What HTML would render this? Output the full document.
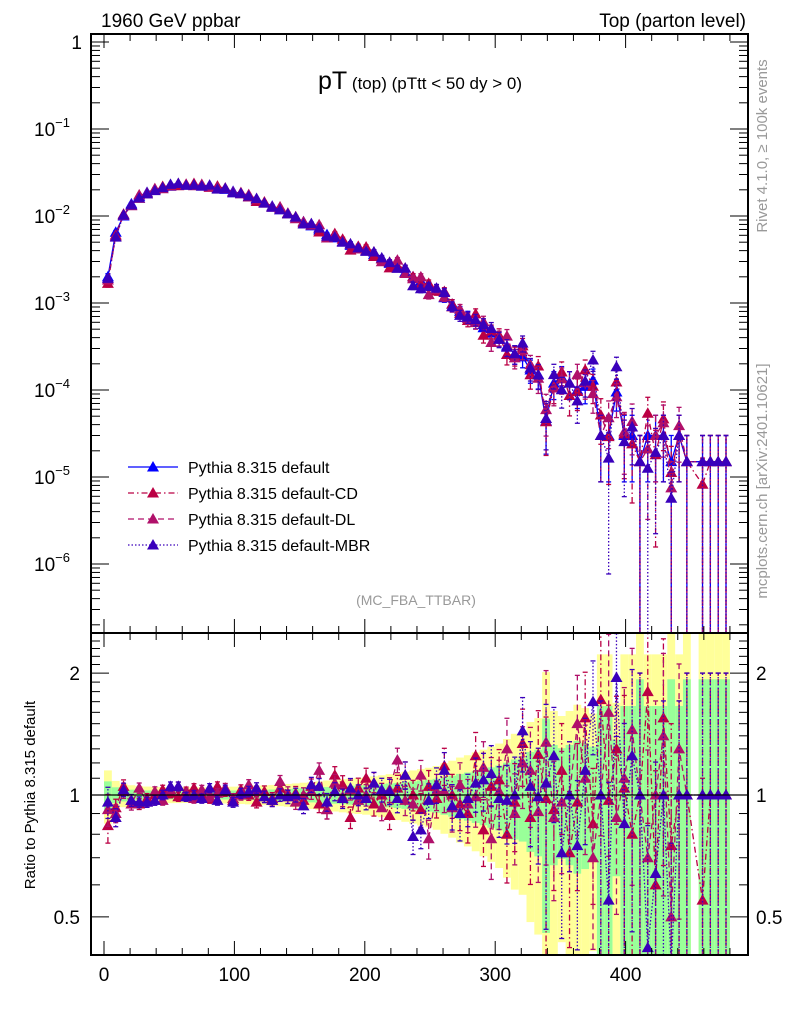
<!DOCTYPE html>
<html><head><meta charset="utf-8"><style>
html,body{margin:0;padding:0;background:#fff;overflow:hidden;width:786px;height:1024px;}
svg{display:block;font-family:"Liberation Sans",Arial,sans-serif;}
</style></head><body>
<svg id="chart" width="786" height="1024" viewBox="0 0 786 1024" xmlns="http://www.w3.org/2000/svg">
<defs>
<clipPath id="clipMain"><rect x="91" y="34" width="657" height="599"/></clipPath>
<clipPath id="clipRatio"><rect x="91" y="633" width="657" height="322"/></clipPath>
</defs>
<g id="bands" clip-path="url(#clipRatio)"></g>
<g id="series"></g>
<g id="axes"></g>
<text x="101" y="27" font-size="19">1960 GeV ppbar</text>
<text x="746" y="27" font-size="19" text-anchor="end">Top (parton level)</text>
<text x="420" y="89" text-anchor="middle"><tspan font-size="25">pT</tspan><tspan font-size="17"> (top) (pTtt &lt; 50 dy &gt; 0)</tspan></text>
<text x="416" y="605" font-size="14" fill="#999" text-anchor="middle">(MC_FBA_TTBAR)</text>
<text transform="translate(767,146) rotate(-90)" font-size="15" fill="#999" text-anchor="middle">Rivet 4.1.0, ≥ 100k events</text>
<text transform="translate(767,481) rotate(-90)" font-size="15" fill="#999" text-anchor="middle">mcplots.cern.ch [arXiv:2401.10621]</text>
<text transform="translate(35,795) rotate(-90)" font-size="15" text-anchor="middle">Ratio to Pythia 8.315 default</text>
<g id="legend"></g>
</svg>
<script>
// ---- data ----
const binCenters = [];
for (let i = 0; i < 80; i++) binCenters.push(3 + 6 * i);
const binWidth = 6;
const defaultValues = [2.0e-3,6.5e-3,1.0e-2,1.38e-2,1.68e-2,1.87e-2,2.02e-2,2.12e-2,2.2e-2,2.25e-2,
2.27e-2,2.27e-2,2.24e-2,2.18e-2,2.1e-2,2.02e-2,1.92e-2,1.8e-2,1.66e-2,1.53e-2,
1.42e-2,1.3e-2,1.18e-2,1.07e-2,9.7e-3,8.6e-3,7.7e-3,6.9e-3,6.1e-3,5.6e-3,
5.1e-3,4.6e-3,4.3e-3,4.0e-3,3.6e-3,3.2e-3,2.85e-3,2.55e-3,2.25e-3,2.0e-3,
1.78e-3,1.6e-3,1.4e-3,1.15e-3,9.7e-4,8.0e-4,7.0e-4,6.0e-4,5.2e-4,4.5e-4,
3.9e-4,3.2e-4,2.6e-4,2.4e-4,1.7e-4,1.5e-4,4.4e-5,1.2e-4,1.4e-4,1.2e-4,
1.0e-4,1.1e-4,1.3e-4,3e-5,3e-5,9.5e-5,3e-5,3e-5,1.5e-5,3e-5,
3e-5,3e-5,1.5e-5,3e-5,1.5e-5,0,1.5e-5,1.5e-5,1.5e-5,1.5e-5];
const ratioCD = [0.84,0.93,1.05,0.97,0.95,0.98,1.00,1.03,1.01,0.99,1.02,1.04,1.00,0.98,1.05,1.02,0.97,1.03,1.00,0.96,
1.02,0.98,1.04,0.99,1.01,0.97,1.05,0.95,0.92,1.12,1.06,0.88,1.04,1.10,0.95,1.00,0.89,1.04,1.12,1.00,
0.92,1.05,0.98,1.18,1.00,0.95,0.90,1.25,0.82,1.05,1.09,0.80,0.96,1.34,0.88,1.26,0.98,0.92,1.15,0.72,
0.96,1.55,0.85,1.72,0.97,1.30,1.04,0.80,1.00,1.80,0.60,1.55,0.75,1.00,1.00,1.00,0.55,1.00,1.00,1.00];
const ratioDL = [0.92,0.90,1.02,0.95,1.04,0.96,1.02,0.97,1.03,1.05,1.01,0.98,1.03,0.99,1.01,1.04,0.98,1.00,1.06,1.02,
0.99,0.97,1.08,1.01,0.96,1.00,1.02,1.15,0.92,1.07,0.99,1.03,0.97,1.00,1.07,0.93,1.03,1.22,0.97,0.95,
1.12,0.78,1.02,1.02,0.93,1.06,0.95,0.99,1.17,0.78,1.02,1.30,0.90,1.20,1.15,0.91,1.35,0.88,0.96,1.00,
1.50,1.10,0.70,1.00,1.60,0.88,1.10,1.45,1.00,0.70,1.00,1.40,0.50,1.30,1.00,1.00,1.00,1.00,1.00,1.00];
const ratioMBR = [0.96,0.88,1.03,0.97,0.96,0.96,0.97,1.00,1.05,1.05,0.99,1.00,0.98,1.04,0.97,1.03,0.96,1.01,1.02,1.04,
0.99,0.97,1.00,0.99,1.00,0.94,1.06,1.05,0.96,1.02,0.98,1.04,1.00,0.98,1.07,1.03,1.02,0.98,1.12,0.79,
0.82,0.97,1.06,1.15,0.94,0.90,0.98,1.07,1.09,1.13,0.98,0.97,1.00,1.44,1.05,0.99,1.07,1.25,0.72,1.00,
0.75,1.15,1.70,1.00,0.55,1.95,0.85,1.25,1.00,0.42,0.64,1.00,0.38,1.00,1.00,2.00,1.00,1.00,1.00,1.00];
const xTicks = [0,100,200,300,400];
const yTickExps = [0,-1,-2,-3,-4,-5,-6];
const ratioTicks = [0.5,1,2];

// ---- axis functions ----
const X0=91,X1=748,YT=34,YM=633,YB=955;
const xScale = v => 104 + 1.304 * v;
const yScale = v => 42 - 87 * Math.log10(v);
const rScale = r => 795 - 405 * Math.log10(r);
const clampY = (y,a,b) => Math.max(a, Math.min(b, y));
const NS="http://www.w3.org/2000/svg";
function mk(tag, attrs, parent){const e=document.createElementNS(NS,tag);for(const k in attrs)e.setAttribute(k,attrs[k]);parent.appendChild(e);return e;}
const axes=document.getElementById('axes'), ser=document.getElementById('series'), bands=document.getElementById('bands'), leg=document.getElementById('legend');

// bands
defaultValues.forEach((d,i)=>{
  if(!d) return;
  const ey=Math.sqrt(4.5e-5/d), eg=Math.sqrt(1.3e-5/d);
  const xa=xScale(binCenters[i]-binWidth/2), xb=xScale(binCenters[i]+binWidth/2);
  const ya=clampY(rScale(1+ey),YM,YB), yb=clampY(rScale(Math.max(1-ey,0.05)),YM,YB);
  const y1=mk('rect',{x:xa,y:ya,width:xb-xa,height:yb-ya,fill:'#ffff99'},bands);
  
  
  const ga=clampY(rScale(1+eg),YM,YB), gb=clampY(rScale(Math.max(1-eg,0.05)),YM,YB);
  const g1=mk('rect',{x:xa,y:ga,width:xb-xa,height:gb-ga,fill:'#99ff99'},bands);
  
  
});

const seriesDefs=[
  {name:'default',ratio:null,color:'#0000ff',dash:'',label:'Pythia 8.315 default'},
  {name:'default-cd',ratio:ratioCD,color:'#bb0044',dash:'6,3,1.5,3',label:'Pythia 8.315 default-CD'},
  {name:'default-dl',ratio:ratioDL,color:'#b0106a',dash:'6,4',label:'Pythia 8.315 default-DL'},
  {name:'default-mbr',ratio:ratioMBR,color:'#3a00bb',dash:'1.5,2',label:'Pythia 8.315 default-MBR'}
];
function tri(parent,x,y,c,name){
  const p=mk('path',{d:`M${x},${y-6}L${x+6},${y+4.5}L${x-6},${y+4.5}Z`,fill:c},parent);
  
  
}
[0,1,2,3].forEach(si=>{
  const s=seriesDefs[si];
  const gm=mk('g',{'clip-path':'url(#clipMain)'},ser);
  
  
  const gr=mk('g',{'clip-path':'url(#clipRatio)'},ser);
  
  
  let pm='',pr='';
  binCenters.forEach((c,i)=>{
    const d=defaultValues[i]; if(!d) return;
    const r=s.ratio?s.ratio[i]:1;
    const v=d*r, x=xScale(c);
    const rel=Math.min(1,Math.sqrt(1.5e-5/v));
    const ym=yScale(v);
    pm+=(pm?'L':'M')+x+','+ym;
    const lo=v*(1-rel)>1e-9?clampY(yScale(v*(1-rel)),YT,YM):YM, hi=yScale(v*(1+rel));
    mk('line',{x1:x,y1:lo,x2:x,y2:hi,stroke:s.color,'stroke-width':1.3,'stroke-dasharray':s.dash},gm);
    mk('line',{x1:x-2.5,y1:hi,x2:x+2.5,y2:hi,stroke:s.color,'stroke-width':1.3},gm);
    if(v*(1-rel)>1e-9) mk('line',{x1:x-2.5,y1:lo,x2:x+2.5,y2:lo,stroke:s.color,'stroke-width':1.3},gm);
    tri(gm,x,ym,s.color,s.name+'-point');
    if(s.ratio){
      const yr=rScale(r);
      pr+=(pr?'L':'M')+x+','+yr;
      const rlo=r*(1-rel)>0.01?clampY(rScale(r*(1-rel)),YM,YB):YB, rhi=clampY(rScale(r*(1+rel)),YM,YB);
      mk('line',{x1:x,y1:rlo,x2:x,y2:rhi,stroke:s.color,'stroke-width':1.3,'stroke-dasharray':s.dash},gr);
      mk('line',{x1:x-2.5,y1:rhi,x2:x+2.5,y2:rhi,stroke:s.color,'stroke-width':1.3},gr);
      mk('line',{x1:x-2.5,y1:rlo,x2:x+2.5,y2:rlo,stroke:s.color,'stroke-width':1.3},gr);
      tri(gr,x,yr,s.color,s.name+'-ratio-point');
    }
  });
  mk('path',{d:pm,fill:'none',stroke:s.color,'stroke-width':1.3,'stroke-dasharray':s.dash},gm);
  if(pr) mk('path',{d:pr,fill:'none',stroke:s.color,'stroke-width':1.3,'stroke-dasharray':s.dash},gr);
});
// unity line
const ul=mk('line',{x1:X0,y1:rScale(1),x2:X1,y2:rScale(1),stroke:'#000','stroke-width':1.3},axes);



// frames
[[YT,YM,'main-frame'],[YM,YB,'ratio-frame']].forEach(([a,b,n])=>{
  const f=mk('rect',{x:X0,y:a,width:X1-X0,height:b-a,fill:'none',stroke:'#000','stroke-width':2},axes);
  
  
});
// x ticks
for(let v=0;v<=490;v+=20){
  const x=xScale(v), major=v%100===0, L=major?14:7;
  [[YT,1],[YM,-1],[YM,1],[YB,-1]].forEach(([y,dir])=>mk('line',{x1:x,y1:y,x2:x,y2:y+dir*L,stroke:'#000','stroke-width':1},axes));
}
xTicks.forEach(v=>{
  const t=mk('text',{x:xScale(v),y:981,'font-size':19,'text-anchor':'middle'},axes);
  t.textContent=v;
  
  
});
// main y ticks
for(let e=-7;e<=0;e++){
  for(let m=1;m<10;m++){
    const v=m*Math.pow(10,e), y=yScale(v);
    if(y<YT||y>YM) continue;
    const L=m===1?18:9;
    mk('line',{x1:X0,y1:y,x2:X0+L,y2:y,stroke:'#000','stroke-width':1},axes);
    mk('line',{x1:X1,y1:y,x2:X1-L,y2:y,stroke:'#000','stroke-width':1},axes);
  }
}
yTickExps.forEach(e=>{
  const y=yScale(Math.pow(10,e));
  const t=mk('text',{x:82,y:y+7,'font-size':19,'text-anchor':'end'},axes);
  
  
  if(e===0){t.textContent='1';}
  else{t.setAttribute('x',70);t.innerHTML='10<tspan font-size="13" dy="-9">'+e.toString().replace('-','−')+'</tspan>';}
});
// ratio ticks
for(let r=0.4;r<=2.5;r+=0.1){
  const rr=Math.round(r*10)/10, y=rScale(rr);
  if(y<YM||y>YB) continue;
  const L=(rr===0.5||rr===1||rr===2)?18:9;
  mk('line',{x1:X0,y1:y,x2:X0+L,y2:y,stroke:'#000','stroke-width':1},axes);
  mk('line',{x1:X1,y1:y,x2:X1-L,y2:y,stroke:'#000','stroke-width':1},axes);
}
ratioTicks.forEach(r=>{
  const y=rScale(r);
  const t=mk('text',{x:80,y:y+7,'font-size':19,'text-anchor':'end'},axes);
  t.textContent=r;
  
  
  const t2=mk('text',{x:756,y:y+7,'font-size':19,'text-anchor':'start'},axes);
  t2.textContent=r;
  
  
});
// legend
seriesDefs.forEach((s,i)=>{
  const y=467+i*26;
  const g=mk('g',{},leg);
  
  
  mk('line',{x1:128,y1:y,x2:178,y2:y,stroke:s.color,'stroke-width':1.3,'stroke-dasharray':s.dash},g);
  tri(g,153,y,s.color,'legend-marker');
  const t=mk('text',{x:188,y:y+6,'font-size':16},g);
  t.textContent=s.label;
  
  
});
</script>
</body></html>
